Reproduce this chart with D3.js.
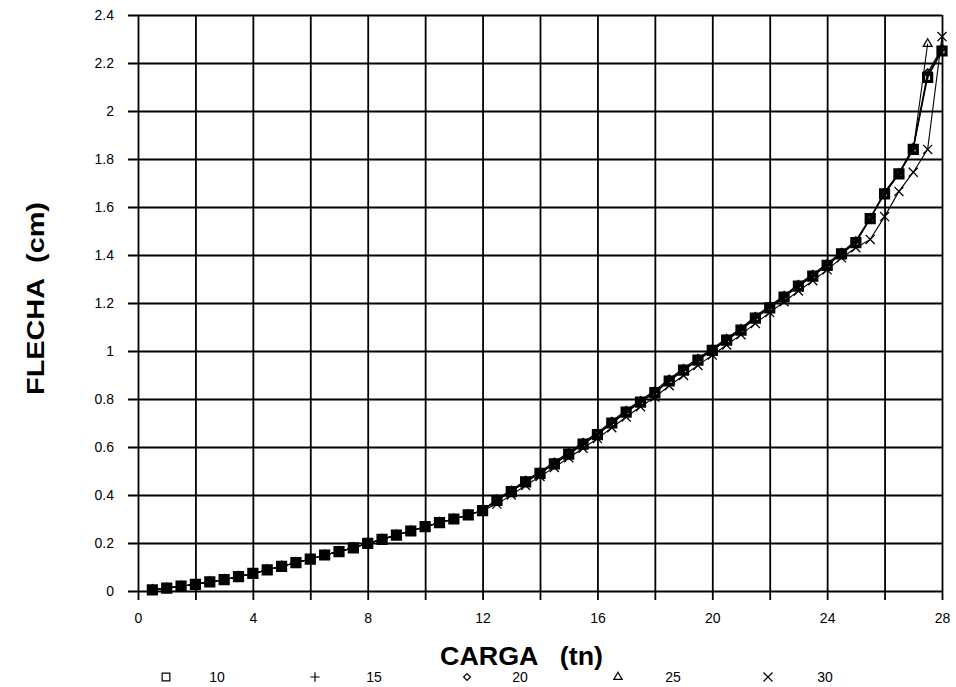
<!DOCTYPE html>
<html>
<head>
<meta charset="utf-8">
<script src="https://cdn.jsdelivr.net/npm/d3@7"></script>
<style>
  html, body { margin: 0; padding: 0; background: #fff; }
  svg { display: block; font-family: "Liberation Sans", Arial, Helvetica, sans-serif; }
</style>
</head>
<body>
<svg id="chart" width="956" height="687"></svg>
<script>
// Load (tn) at each step of the test
const carga = [0.5,1,1.5,2,2.5,3,3.5,4,4.5,5,5.5,6,6.5,7,7.5,8,8.5,9,9.5,10,10.5,11,11.5,12,
  12.5,13,13.5,14,14.5,15,15.5,16,16.5,17,17.5,18,18.5,19,19.5,20,20.5,21,21.5,22,22.5,23,23.5,24,
  24.5,25,25.5,26,26.5,27,27.5,28];

// Deflection (cm) for each series
const flecha10 = [0.005,0.012,0.020,0.028,0.038,0.047,0.060,0.073,0.088,0.103,0.118,0.133,0.150,0.164,0.180,0.198,0.215,0.233,0.250,0.268,0.285,0.300,0.317,0.335,
  0.378,0.414,0.455,0.490,0.530,0.570,0.612,0.652,0.700,0.745,0.787,0.827,0.875,0.920,0.962,1.003,1.045,1.087,1.137,1.180,1.225,1.270,1.312,1.357,1.405,1.452,1.552,1.655,1.738,1.840,2.140,2.250];
const flecha15 = [0.005,0.012,0.020,0.028,0.038,0.047,0.060,0.073,0.088,0.103,0.118,0.133,0.150,0.164,0.180,0.198,0.215,0.233,0.250,0.268,0.285,0.300,0.317,0.335,
  0.380,0.416,0.457,0.492,0.533,0.572,0.614,0.655,0.702,0.748,0.790,0.830,0.878,0.923,0.965,1.006,1.048,1.090,1.140,1.183,1.228,1.273,1.315,1.360,1.408,1.455,1.552,1.658,1.740,1.845,2.150,2.255];
const flecha20 = [0.005,0.012,0.020,0.028,0.038,0.047,0.060,0.073,0.088,0.103,0.118,0.133,0.150,0.164,0.180,0.198,0.215,0.233,0.250,0.268,0.285,0.300,0.317,0.335,
  0.384,0.420,0.462,0.497,0.538,0.578,0.620,0.660,0.708,0.753,0.795,0.836,0.884,0.928,0.970,1.010,1.053,1.095,1.145,1.188,1.232,1.278,1.320,1.365,1.412,1.460,1.555,1.662,1.742,1.850,2.160,2.262];
const flecha25 = [0.005,0.012,0.020,0.028,0.038,0.047,0.060,0.073,0.088,0.103,0.118,0.133,0.150,0.164,0.180,0.198,0.215,0.233,0.250,0.268,0.285,0.300,0.317,0.335,
  0.378,0.414,0.455,0.490,0.530,0.570,0.612,0.652,0.700,0.745,0.787,0.827,0.875,0.920,0.962,1.003,1.045,1.087,1.137,1.180,1.225,1.270,1.312,1.357,1.405,1.452,1.552,1.655,1.738,1.840,2.280];
const flecha30 = [0.005,0.012,0.020,0.028,0.038,0.047,0.060,0.073,0.088,0.103,0.118,0.133,0.150,0.164,0.180,0.198,0.215,0.233,0.250,0.268,0.285,0.300,0.317,0.335,
  0.362,0.400,0.440,0.477,0.515,0.555,0.595,0.635,0.680,0.725,0.768,0.808,0.855,0.898,0.940,0.983,1.025,1.068,1.115,1.160,1.205,1.250,1.293,1.338,1.388,1.430,1.465,1.560,1.665,1.745,1.840,2.310];

const seriesNames = ["10", "15", "20", "25", "30"];
const seriesValues = [flecha10, flecha15, flecha20, flecha25, flecha30];

const xTicks = [0,2,4,6,8,10,12,14,16,18,20,22,24,26,28];
const xTickLabels = ["0","","4","","8","","12","","16","","20","","24","","28"];
const yTicks = [0,0.2,0.4,0.6,0.8,1,1.2,1.4,1.6,1.8,2,2.2,2.4];
const yTickLabels = ["0","0.2","0.4","0.6","0.8","1","1.2","1.4","1.6","1.8","2","2.2","2.4"];

const svg = d3.select("#chart");
const plotLeft = 138, plotRight = 942, plotTop = 15, plotBottom = 591;

const x = d3.scaleLinear().domain([0, 28]).range([plotLeft, plotRight]);
const y = d3.scaleLinear().domain([0, 2.4]).range([plotBottom, plotTop]);

// Grid: every tick line runs across the plot and pokes out past the axis
const xAxis = d3.axisBottom(x)
  .tickValues(xTicks)
  .tickFormat((d, i) => xTickLabels[i])
  .tickSizeOuter(0)
  .tickPadding(16);
const gx = svg.append("g").attr("transform", `translate(0,${plotBottom})`).call(xAxis);
gx.select(".domain").remove();
gx.selectAll(".tick line")
  .attr("y1", -(plotBottom - plotTop)).attr("y2", 9)
  .attr("stroke", "#000").attr("stroke-width", 1.8);
gx.selectAll(".tick text")
  .attr("font-size", 14).attr("fill", "#000")
  .attr("font-family", "'Liberation Sans', Arial, sans-serif");

const yAxis = d3.axisLeft(y)
  .tickValues(yTicks)
  .tickFormat((d, i) => yTickLabels[i])
  .tickSizeOuter(0)
  .tickPadding(18);
const gy = svg.append("g").attr("transform", `translate(${plotLeft},0)`).call(yAxis);
gy.select(".domain").remove();
gy.selectAll(".tick line")
  .attr("x1", -10).attr("x2", plotRight - plotLeft)
  .attr("stroke", "#000").attr("stroke-width", 1.8);
gy.selectAll(".tick text")
  .attr("font-size", 14).attr("fill", "#000")
  .attr("font-family", "'Liberation Sans', Arial, sans-serif");

// Series markers
const shapes = [d3.symbolSquare2, d3.symbolPlus, d3.symbolDiamond2, d3.symbolTriangle2, d3.symbolTimes];
const chartSizes = [82, 24, 30, 55, 55];
const chartStroke = [3.2, 1.6, 1.8, 1.3, 1.3];

const line = d3.line()
  .x(d => x(d[0]))
  .y(d => y(d[1]));

const plot = svg.append("g");
seriesValues.forEach((vals, s) => {
  const pts = vals.map((v, i) => [carga[i], v]);
  plot.append("path")
    .datum(pts)
    .attr("d", line)
    .attr("fill", "none")
    .attr("stroke", "#000")
    .attr("stroke-width", 1.1);
});
seriesValues.forEach((vals, s) => {
  const pts = vals.map((v, i) => [carga[i], v]);
  plot.append("g").selectAll("path")
    .data(pts)
    .join("path")
    .attr("transform", d => `translate(${x(d[0])},${y(d[1])})`)
    .attr("d", d3.symbol(shapes[s], chartSizes[s]))
    .attr("fill", "none")
    .attr("stroke", "#000")
    .attr("stroke-width", chartStroke[s]);
});

// Axis titles
svg.append("text")
  .attr("x", 440).attr("y", 665)
  .attr("font-size", 25).attr("font-weight", "bold")
  .attr("textLength", 163).attr("lengthAdjust", "spacingAndGlyphs")
  .style("white-space", "pre")
  .text("CARGA   (tn)");

svg.append("text")
  .attr("transform", "translate(44,395) rotate(-90)")
  .attr("font-size", 24).attr("font-weight", "bold")
  .attr("textLength", 193).attr("lengthAdjust", "spacingAndGlyphs")
  .style("white-space", "pre")
  .text("FLECHA  (cm)");

// Legend row along the bottom
const legendMarkX = [166, 315, 467, 618, 768];
const legendTextX = [217, 374, 520, 673, 825];
const legendSizes = [75, 30, 30, 50, 55];
const lg = svg.append("g");
seriesNames.forEach((name, s) => {
  lg.append("path")
    .attr("transform", `translate(${legendMarkX[s]},677)`)
    .attr("d", d3.symbol(shapes[s], legendSizes[s]))
    .attr("fill", "none").attr("stroke", "#000").attr("stroke-width", 1.2);
  lg.append("text")
    .attr("x", legendTextX[s]).attr("y", 682)
    .attr("text-anchor", "middle")
    .attr("font-size", 14)
    .text(name);
});
</script>
</body>
</html>
